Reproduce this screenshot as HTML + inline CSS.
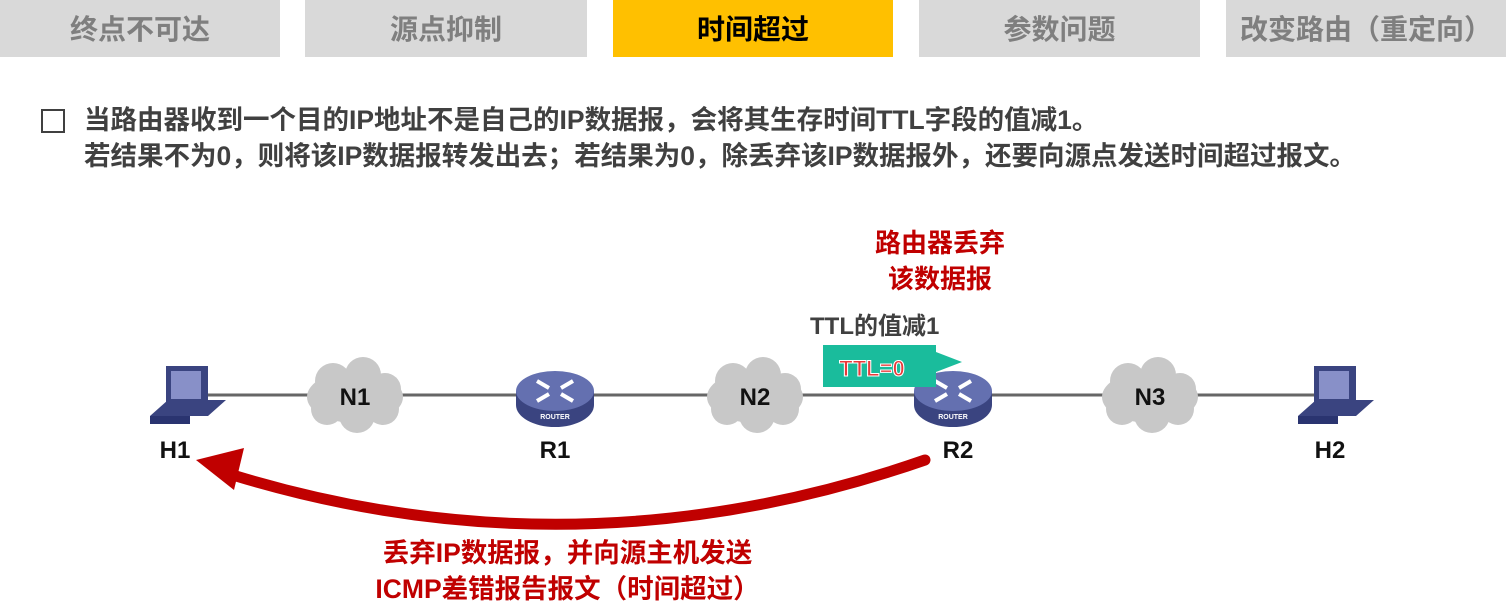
<!DOCTYPE html>
<html><head><meta charset="utf-8"><style>
body{margin:0;width:1506px;height:602px;background:#fff;position:relative;overflow:hidden;font-family:"Liberation Sans","Noto Sans CJK SC",sans-serif;}
.tab{position:absolute;top:0;height:57px;background:#d9d9d9;color:#7f7f7f;font-size:28px;font-weight:bold;text-align:center;line-height:60px;}
.t{position:absolute;font-weight:bold;white-space:nowrap;}
</style></head><body>
<div class="tab" style="left:0;width:280px">终点不可达</div>
<div class="tab" style="left:305px;width:282px">源点抑制</div>
<div class="tab" style="left:613px;width:280px;background:#ffc000;color:#000">时间超过</div>
<div class="tab" style="left:919px;width:281px">参数问题</div>
<div class="tab" style="left:1226px;width:280px">改变路由（重定向）</div>
<div style="position:absolute;left:41px;top:109px;width:24px;height:24px;border:2px solid #404040;box-sizing:border-box"></div>
<div class="t" style="left:84px;top:102px;font-size:26.5px;color:#404040;line-height:36px">当路由器收到一个目的IP地址不是自己的IP数据报，会将其生存时间TTL字段的值减1。<br>若结果不为0，则将该IP数据报转发出去；若结果为0，除丢弃该IP数据报外，还要向源点发送时间超过报文。</div>
<div class="t" style="left:840px;top:225px;font-size:26px;color:#c00000;line-height:36px;text-align:center;width:200px">路由器丢弃<br>该数据报</div>
<div class="t" style="left:810px;top:306px;font-size:24px;color:#404040">TTL的值减1</div>
<svg width="1506" height="602" style="position:absolute;left:0;top:0">
<defs>
<g id="c"><ellipse cx="0" cy="0" rx="48" ry="26"/><circle cx="-22" cy="-16" r="18"/><circle cx="8" cy="-22" r="18"/><circle cx="30" cy="-8" r="16"/><circle cx="-28" cy="12" r="16"/><circle cx="2" cy="18" r="18"/><circle cx="28" cy="12" r="16"/></g>
<g id="r"><ellipse cx="0" cy="10" rx="39" ry="22" fill="#3a4480"/><rect x="-39" y="-4" width="78" height="14" fill="#3a4480"/><ellipse cx="0" cy="-4" rx="39" ry="20" fill="#6470b0"/>
<path d="M-18-14l12 7M18-14l-12 7M-18 6l12-7M18 6l-12-7" stroke="#fff" stroke-width="4"/><text x="0" y="24" font-size="7" fill="#fff" text-anchor="middle" font-weight="bold">ROUTER</text></g>
<g id="pc"><path d="M-32 22l18-16h58l-18 16z" fill="#3a4480"/><rect x="-16" y="-28" width="42" height="40" fill="#3a4480"/><rect x="-11" y="-23" width="30" height="28" fill="#8890c8"/><path d="M-32 22h40v8h-40z" fill="#2a3470"/></g>
</defs>
<line x1="200" y1="395" x2="1320" y2="395" stroke="#666" stroke-width="3"/>
<g fill="#c8c8c8">
<use href="#c" x="355" y="397"/><use href="#c" x="755" y="397"/><use href="#c" x="1150" y="397"/>
</g>
<use href="#r" x="555" y="395"/><use href="#r" x="953" y="395"/>
<use href="#pc" x="182" y="394"/><use href="#pc" x="1330" y="394"/>
<g fill="#1abc9c"><rect x="823" y="345" width="113" height="42"/><path d="M936 352l26 10-26 10z"/></g>
<text x="872" y="376" font-size="22" font-weight="bold" fill="#e83a3a" stroke="#fff" stroke-width="1" text-anchor="middle" font-family="Liberation Sans">TTL=0</text>
<text x="355" y="405" font-size="24" font-weight="bold" text-anchor="middle" fill="#111">N1</text>
<text x="755" y="405" font-size="24" font-weight="bold" text-anchor="middle" fill="#111">N2</text>
<text x="1150" y="405" font-size="24" font-weight="bold" text-anchor="middle" fill="#111">N3</text>
<g font-size="24" font-weight="bold" fill="#111" text-anchor="middle"><text x="175" y="458">H1</text><text x="555" y="458">R1</text><text x="958" y="458">R2</text><text x="1330" y="458">H2</text></g>
<path d="M925 460 Q580 580 236 476" fill="none" stroke="#c00000" stroke-width="11" stroke-linecap="round"/>
<path d="M196 460l48-12-10 42z" fill="#c00000"/>
</svg>
<div class="t" style="left:360px;top:535px;font-size:26.5px;color:#c00000;line-height:36px;text-align:center;width:415px">丢弃IP数据报，并向源主机发送<br>ICMP差错报告报文（时间超过）</div>
</body></html>
